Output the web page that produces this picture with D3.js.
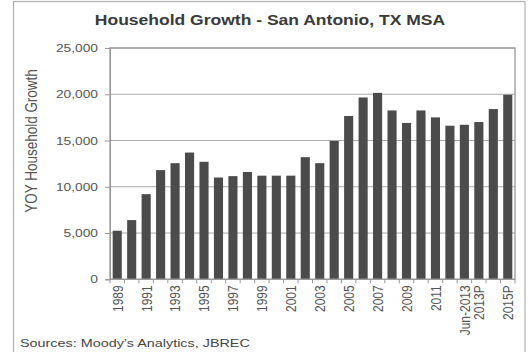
<!DOCTYPE html>
<html>
<head>
<meta charset="utf-8">
<script src="https://cdn.jsdelivr.net/npm/d3@7"></script>
<style>
  html, body { margin: 0; padding: 0; background: #fff; }
  svg { display: block; font-family: "Liberation Sans", Arial, sans-serif; }
</style>
</head>
<body>
<svg id="chart" width="530" height="352"></svg>
<script>
const categories = ["1989","1990","1991","1992","1993","1994","1995","1996","1997","1998",
  "1999","2000","2001","2002","2003","2004","2005","2006","2007","2008",
  "2009","2010","2011","2012","Jun-2013","2013P","2014P","2015P"];
const householdGrowth = [5250, 6400, 9200, 11800, 12550, 13700, 12700, 11000, 11150, 11600,
  11200, 11200, 11200, 13200, 12550, 14950, 17650, 19650, 20150, 18250,
  16900, 18250, 17500, 16600, 16700, 17000, 18400, 19950];
const shownLabels = ["1989","1991","1993","1995","1997","1999","2001","2003","2005","2007",
  "2009","2011","Jun-2013","2013P","2015P"];
const yTicks = [0, 5000, 10000, 15000, 20000, 25000];
const titleText = "Household Growth - San Antonio, TX MSA";
const yLabelText = "YOY Household Growth";
const sourceText = "Sources: Moody\u2019s Analytics, JBREC";

const svg = d3.select("#chart");
const plot = { left: 110, right: 515, top: 48, bottom: 279.3 };
const SX = 1.25; // horizontal stretch of the reference image

const x = d3.scaleBand().domain(categories).range([plot.left, plot.right]).paddingInner(0.37).paddingOuter(0.185);
const xb = d3.scaleBand().domain(categories).range([plot.left, plot.right]);
const y = d3.scaleLinear().domain([0, 25000]).range([plot.bottom, plot.top]);

// outer frame
svg.append("rect").attr("x", 13.5).attr("y", 1.5).attr("width", 511.5).attr("height", 400)
  .attr("fill", "none").attr("stroke", "#b0b0b0").attr("stroke-width", 1.2);

// title
const title = svg.append("text").attr("x", 270).attr("y", 25).attr("text-anchor", "middle")
  .attr("font-size", 14).attr("font-weight", "bold").attr("fill", "#3a3a3a").text(titleText);

// gridlines
svg.append("g").selectAll("line").data(yTicks.slice(1)).join("line")
  .attr("x1", plot.left).attr("x2", plot.right)
  .attr("y1", d => y(d)).attr("y2", d => y(d))
  .attr("stroke", "#aaaaaa").attr("stroke-width", 1);

// bars
svg.append("g").selectAll("rect").data(householdGrowth).join("rect")
  .attr("x", (d, i) => x(categories[i]))
  .attr("width", x.bandwidth())
  .attr("y", d => y(d))
  .attr("height", d => y(0) - y(d))
  .attr("fill", "#4b4b4b");

// plot border
svg.append("rect").attr("x", plot.left).attr("y", plot.top)
  .attr("width", plot.right - plot.left).attr("height", plot.bottom - plot.top)
  .attr("fill", "none").attr("stroke", "#999").attr("stroke-width", 1.3);

// y axis
const yAxis = svg.append("g").attr("transform", `translate(${plot.left},0)`)
  .call(d3.axisLeft(y).tickValues(yTicks).tickSize(5).tickPadding(7).tickFormat(d3.format(",")));
yAxis.select(".domain").attr("stroke", "#999");
yAxis.selectAll(".tick line").attr("stroke", "#999");
yAxis.selectAll("text").attr("font-size", 11).attr("fill", "#555").attr("font-family", "Liberation Sans, Arial, sans-serif");

// x axis
const xAxis = svg.append("g").attr("transform", `translate(0,${plot.bottom})`);
xAxis.append("line").attr("x1", plot.left).attr("x2", plot.right).attr("stroke", "#999").attr("stroke-width", 1.3);
xAxis.selectAll("line.tk").data(categories.concat(["end"])).join("line").attr("class", "tk")
  .attr("x1", (d, i) => i < categories.length ? xb(d) : plot.right)
  .attr("x2", (d, i) => i < categories.length ? xb(d) : plot.right)
  .attr("y1", 0).attr("y2", 4).attr("stroke", "#999");
xAxis.selectAll("text").data(categories.filter(c => shownLabels.includes(c))).join("text")
  .attr("transform", d => `translate(${x(d) + x.bandwidth() / 2},6) scale(${SX},1) rotate(-90)`)
  .attr("text-anchor", "end").attr("dy", "0.36em")
  .attr("font-size", 12).attr("fill", "#555").text(d => d);

// y label
svg.append("text")
  .attr("transform", `translate(31,141) scale(${SX},1) rotate(-90)`)
  .attr("text-anchor", "middle").attr("dy", "0.35em")
  .attr("font-size", 13.5).attr("fill", "#555").text(yLabelText);

// source
const src = svg.append("text").attr("x", 20).attr("y", 347)
  .attr("font-size", 11.5).attr("fill", "#444").text(sourceText);

// horizontal stretch for horizontal texts
function stretch(sel) {
  sel.each(function () {
    const L = this.getComputedTextLength();
    d3.select(this).attr("textLength", L * SX).attr("lengthAdjust", "spacingAndGlyphs");
  });
}
stretch(title);
stretch(src);
stretch(yAxis.selectAll("text"));
</script>
</body>
</html>
